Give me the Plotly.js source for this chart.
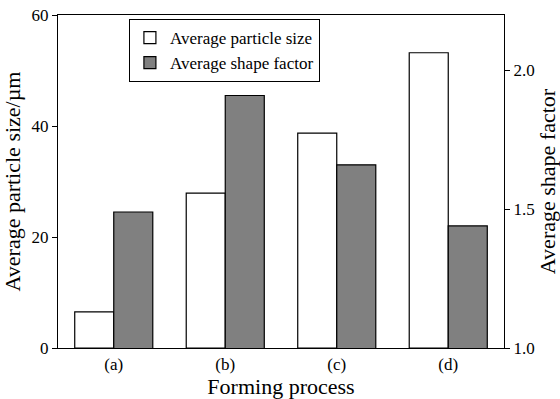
<!DOCTYPE html>
<html><head><meta charset="utf-8">
<script src="https://cdn.plot.ly/plotly-3.0.1.min.js"></script>
<style>html,body{margin:0;padding:0;background:#fff}#plot{width:560px;height:399px}</style>
</head><body><div id="plot"></div>
<script>
const categories = ['(a)', '(b)', '(c)', '(d)'];
const particleSize = [6.5, 27.9, 38.7, 53.2];
const shapeFactor = [1.49, 1.91, 1.66, 1.44];

const font = "'Liberation Serif', 'DejaVu Serif', serif";
const data = [
  {type:'bar', x:categories, y:particleSize, name:'Average particle size', yaxis:'y', offsetgroup:'1',
   marker:{color:'#ffffff', line:{color:'#000', width:1.2}}},
  {type:'bar', x:categories, y:shapeFactor, name:'Average shape factor', yaxis:'y2', offsetgroup:'2',
   marker:{color:'#808080', line:{color:'#000', width:1.2}}}
];
const layout = {
  width:560, height:399,
  margin:{l:58, r:56, t:15, b:51},
  paper_bgcolor:'#fff', plot_bgcolor:'#fff',
  font:{family:font, color:'#000', size:17},
  barmode:'group', bargap:0.3, bargroupgap:0,
  showlegend:true,
  legend:{x:0.159, y:0.988, xanchor:'left', yanchor:'top', bgcolor:'#fff', bordercolor:'#000', borderwidth:1,
          font:{family:font, size:17}, tracegroupgap:0, itemwidth:30},
  xaxis:{showline:true, linecolor:'#000', linewidth:1.2, mirror:true, ticks:'', showgrid:false,
         tickfont:{family:font, size:17},
         title:{text:'Forming process', font:{family:font, size:22}, standoff:9}},
  yaxis:{range:[0,60], tickvals:[0,20,40,60], showline:true, linecolor:'#000', linewidth:1.2,
         ticks:'outside', ticklen:5, tickcolor:'#000', showgrid:false, zeroline:false,
         tickfont:{family:font, size:17},
         title:{text:'Average particle size/µm', font:{family:font, size:22}, standoff:7}},
  yaxis2:{range:[1.0,2.2], tickvals:[1.0,1.5,2.0], ticktext:['1.0','1.5','2.0'], overlaying:'y', side:'right',
          showline:true, linecolor:'#000', linewidth:1.2, ticks:'outside', ticklen:5, tickcolor:'#000',
          showgrid:false, zeroline:false, tickfont:{family:font, size:17},
          title:{text:'Average shape factor', font:{family:font, size:22}, standoff:7}}
};
Plotly.newPlot('plot', data, layout, {displayModeBar:false, staticPlot:true});
</script></body></html>
